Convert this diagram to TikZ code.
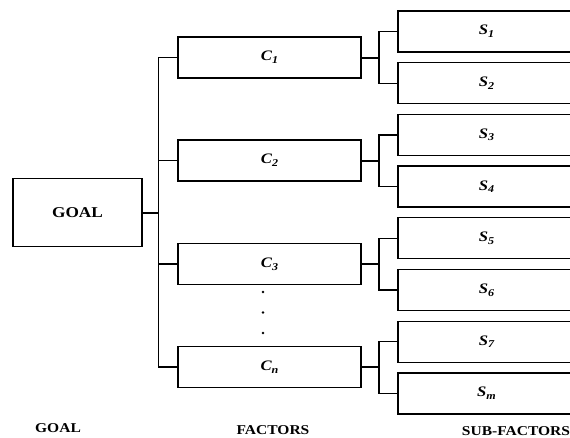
\documentclass[tikz,border=0pt]{standalone}
\usepackage{fontspec}
\setmainfont{Liberation Serif}
\newcommand{\lbl}[2]{\textbf{\textit{#1\raisebox{-0.4ex}{\fontsize{10.5}{10.5}\selectfont #2}}}}
\newcommand{\wide}[1]{\scalebox{1.15}[1]{#1}}
\begin{document}
\begin{tikzpicture}[x=1pt,y=-1pt,
  box/.style={draw,line width=1.3pt,inner sep=0pt,font=\fontsize{14.5}{14.5}\selectfont},
  fbox/.style={box,minimum width=183pt,minimum height=41pt},
  sbox/.style={box,minimum width=177pt,minimum height=41pt},
  link/.style={line width=1.3pt},
  stub/.style={line width=2pt},
  caption/.style={font=\bfseries\fontsize{13.5}{13.5}\selectfont,inner sep=0pt},
  dot/.style={circle,fill,inner sep=0pt,minimum size=2.6pt}]
\useasboundingbox (0,0) rectangle (570,437);
\clip (0,0) rectangle (570,437);
% goal
\node[box,minimum width=129pt,minimum height=68pt,font=\bfseries\fontsize{15}{15}\selectfont] (goal) at (77.5,212.5) {\wide{GOAL}};
% factors
\node[fbox] (c1) at (269.5,57.5) {\wide{\lbl{C}{1}}};
\node[fbox] (c2) at (269.5,160.5) {\wide{\lbl{C}{2}}};
\node[fbox] (c3) at (269.5,264) {\wide{\lbl{C}{3}}};
\node[fbox] (cn) at (269.5,367) {\wide{\lbl{C}{n}}};
% sub-factors
\foreach \i/\t in {1/1,2/2,3/3,4/4,5/5,6/6,7/7,8/m}{
  \pgfmathsetmacro{\yy}{31.5+(\i-1)*51.7}
  \node[sbox] (s\i) at (486.5,\yy) {\wide{\lbl{S}{\t}}};
}
% dots between C3 and Cn
\node[dot] (d1) at (263,292) {};
\node[dot] (d2) at (263,312.5) {};
\node[dot] (d3) at (263,333) {};
% trunk from goal to factors
\coordinate (tx) at (158.5,0);
\draw[stub] (goal.east) -- (goal.east -| tx);
\draw[link] (c1.west) -- (c1.west -| tx) -- (cn.west -| tx) -- (cn.west);
\draw[link] (c2.west) -- (c2.west -| tx);
\draw[link] (c3.west) -- (c3.west -| tx);
% brackets from factors to sub-factors
\coordinate (bx) at (379,0);
\foreach \c/\a/\b in {c1/s1/s2,c2/s3/s4,c3/s5/s6,cn/s7/s8}{
  \draw[stub] (\c.east) -- (\c.east -| bx);
  \draw[link] (\a.west) -- (\a.west -| bx) -- (\b.west -| bx) -- (\b.west);
}
% column captions
\node[caption] (lgoal) at (58,428) {\wide{GOAL}};
\node[caption] (lfact) at (273,430) {\wide{FACTORS}};
\node[caption] (lsub) at (516,431) {\wide{SUB-FACTORS}};
\end{tikzpicture}
\end{document}
